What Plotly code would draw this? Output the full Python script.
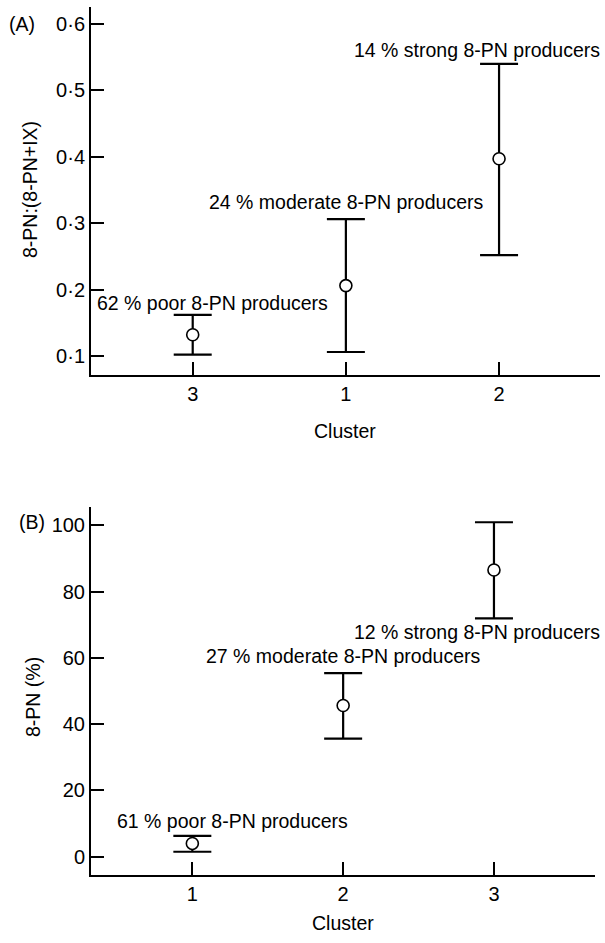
import plotly.graph_objects as go

W, H = 605, 943

# Panel A data
clusters_a = ["3", "1", "2"]
ratio_mean = [0.132, 0.206, 0.397]
ratio_upper = [0.162, 0.306, 0.540]
ratio_lower = [0.102, 0.106, 0.252]
labels_a = ["62 % poor 8-PN producers", "24 % moderate 8-PN producers", "14 % strong 8-PN producers"]
yticks_a = [0.1, 0.2, 0.3, 0.4, 0.5, 0.6]
yticktext_a = ["0·1", "0·2", "0·3", "0·4", "0·5", "0·6"]

# Panel B data
clusters_b = ["1", "2", "3"]
pct_mean = [4.0, 45.6, 86.5]
pct_upper = [6.3, 55.4, 100.9]
pct_lower = [1.5, 35.6, 71.9]
labels_b = ["61 % poor 8-PN producers", "27 % moderate 8-PN producers", "12 % strong 8-PN producers"]
yticks_b = [0, 20, 40, 60, 80, 100]

FONT = "Liberation Sans, Arial, sans-serif"
FS = 19.5


def px_x(p):
    return p / W


def px_y(p):
    return 1 - p / H


fig = go.Figure()

fig.add_trace(go.Scatter(
    x=clusters_a, y=ratio_mean, mode="markers",
    marker=dict(symbol="circle", size=12, color="white", line=dict(color="black", width=1.6)),
    error_y=dict(type="data", symmetric=False,
                 array=[u - m for u, m in zip(ratio_upper, ratio_mean)],
                 arrayminus=[m - l for m, l in zip(ratio_mean, ratio_lower)],
                 color="black", thickness=2.2, width=19),
    xaxis="x", yaxis="y", showlegend=False, cliponaxis=False,
))

fig.add_trace(go.Scatter(
    x=clusters_b, y=pct_mean, mode="markers",
    marker=dict(symbol="circle", size=12, color="white", line=dict(color="black", width=1.6)),
    error_y=dict(type="data", symmetric=False,
                 array=[u - m for u, m in zip(pct_upper, pct_mean)],
                 arrayminus=[m - l for m, l in zip(pct_mean, pct_lower)],
                 color="black", thickness=2.2, width=19),
    xaxis="x2", yaxis="y2", showlegend=False, cliponaxis=False,
))

axis_common = dict(showline=True, linecolor="black", linewidth=2, ticks="inside",
                   ticklen=13, tickwidth=2, tickcolor="black", showgrid=False,
                   zeroline=False, tickfont=dict(family=FONT, size=20, color="black"))

fig.update_layout(
    width=W, height=H,
    margin=dict(l=0, r=0, t=0, b=0),
    paper_bgcolor="white", plot_bgcolor="white",
    font=dict(family=FONT, size=FS, color="black"),
    xaxis=dict(domain=[px_x(91), px_x(600)], anchor="y", type="category",
               categoryorder="array", categoryarray=clusters_a,
               range=[-0.664, 2.659], **axis_common),
    yaxis=dict(domain=[px_y(375), px_y(7)], anchor="x", range=[0.0714, 0.6256],
               tickvals=yticks_a, ticktext=yticktext_a, **axis_common),
    xaxis2=dict(domain=[px_x(91), px_x(595)], anchor="y2", type="category",
                categoryorder="array", categoryarray=clusters_b,
                range=[-0.672, 2.67], **axis_common),
    yaxis2=dict(domain=[px_y(875), px_y(507)], anchor="x2", range=[-5.52, 105.5],
                tickvals=yticks_b, **axis_common),
)

ann = []
pos_a = [(212, 303), (345.5, 202), (477, 50)]
pos_b = [(232.5, 821), (343, 656), (477, 632)]
for t, (x, y) in zip(labels_a, pos_a):
    ann.append((t, x, y, 0))
for t, (x, y) in zip(labels_b, pos_b):
    ann.append((t, x, y, 0))
ann += [
    ("(A)", 21.5, 24, 0),
    ("(B)", 31.5, 522, 0),
    ("8-PN:(8-PN+IX)", 30, 190, -90),
    ("8-PN (%)", 33, 697, -90),
    ("Cluster", 345, 431, 0),
    ("Cluster", 343, 923, 0),
]
for t, x, y, a in ann:
    fig.add_annotation(text=t, x=px_x(x), y=px_y(y), xref="paper", yref="paper",
                       xanchor="center", yanchor="middle", showarrow=False,
                       textangle=a, font=dict(family=FONT, size=FS, color="black"))

fig.write_html("out.html", config={"displayModeBar": False},
               post_script="document.body.style.margin='0';document.body.style.padding='0';")
